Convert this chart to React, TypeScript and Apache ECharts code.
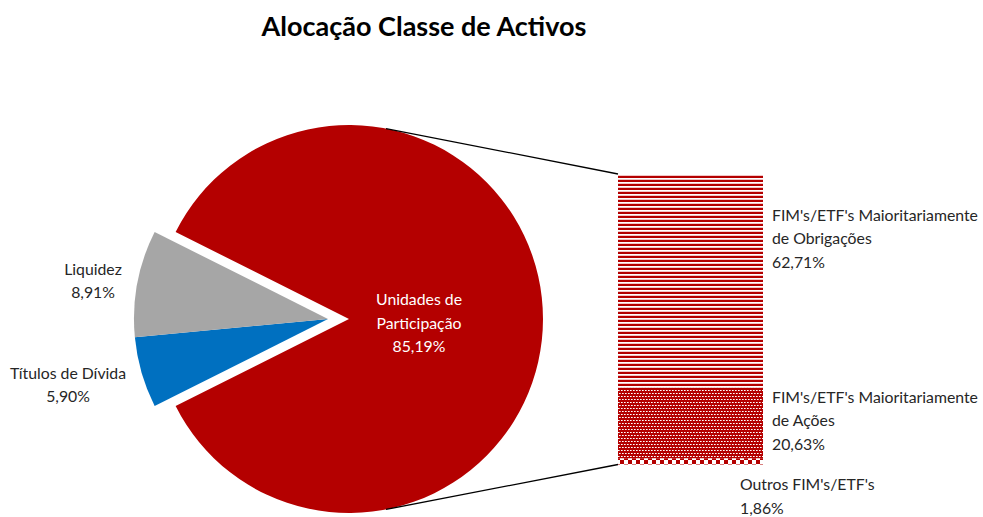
import React, { useEffect, useRef } from "react";
import * as echarts from "echarts";

// ---- data ----
const titleText = "Alocação Classe de Activos";
const pieNames = ["Títulos de Dívida", "Liquidez", "Unidades de\nParticipação"];
const pieValues = [5.9, 8.91, 85.19];
const pieColors = ["#0070C0", "#A6A6A6", "#B40000"];
const barNames = [
  "Outros FIM's/ETF's",
  "FIM's/ETF's Maioritariamente\nde Ações",
  "FIM's/ETF's Maioritariamente\nde Obrigações",
];
const barValues = [1.86, 20.63, 62.71];
const barCategory = ["Unidades de Participação"];

// ---- layout ----
const W = 983;
const H = 517;
const R = 194;
const SMALL_C = [328, 319];
const BIG_C = [349, 319];
const BAR_LEFT = 618;
const BAR_TOP = 174;
const BAR_W = 145;
const BAR_H = 290.5;
const LEADER_ANGLE = 79; // degrees on big circle
const PIE_LABEL_POS: Record<number, [number, number]> = {
  0: [68, 384],
  1: [93, 280],
  2: [419, 322],
};
const BAR_LABEL_OFFSET = [
  [-32, 34],
  [0, -3],
  [0, -43],
];
const FONT = "Lato, 'Open Sans', sans-serif";
const RED = "#B40000";
const LABEL_SIZE = 15.8;

const fmt = (v: number) => v.toFixed(2).replace(".", ",") + "%";

function makePattern(w: number, h: number, draw: (ctx: CanvasRenderingContext2D) => void) {
  const c = document.createElement("canvas");
  c.width = w;
  c.height = h;
  const ctx = c.getContext("2d")!;
  draw(ctx);
  return { image: c, repeat: "repeat", imageWidth: w, imageHeight: h } as any;
}

export default function App() {
  const ref = useRef<HTMLDivElement>(null);
  useEffect(() => {
    document.body.style.margin = "0";
    const chart = echarts.init(ref.current!, undefined, { renderer: "svg" });

    const stripes = makePattern(4, 4, (ctx) => {
      ctx.fillStyle = "#ffffff";
      ctx.fillRect(0, 0, 4, 4);
      ctx.fillStyle = RED;
      ctx.fillRect(0, 0, 4, 2);
      ctx.fillStyle = "#f2c6c6";
      ctx.fillRect(0, 3, 4, 1);
    });
    const dots = makePattern(6, 6, (ctx) => {
      ctx.fillStyle = RED;
      ctx.fillRect(0, 0, 6, 6);
      ctx.fillStyle = "#ffffff";
      ctx.fillRect(0, 0, 1, 1);
      ctx.fillRect(3, 0, 1, 1);
      ctx.fillRect(1.5 | 0, 3, 1, 1);
      ctx.fillRect(4, 3, 1, 1);
      ctx.fillStyle = "#e8a4a4";
      ctx.fillRect(1, 0, 1, 1);
      ctx.fillRect(4, 0, 1, 1);
      ctx.fillRect(2, 3, 1, 1);
      ctx.fillRect(5, 3, 1, 1);
    });
    const checker = makePattern(8, 8, (ctx) => {
      ctx.fillStyle = "#ffffff";
      ctx.fillRect(0, 0, 8, 8);
      ctx.fillStyle = RED;
      ctx.fillRect(0, 0, 4, 4);
      ctx.fillRect(4, 4, 4, 4);
    });
    const barPatterns = [checker, dots, stripes];

    const totalPie = pieValues.reduce((a, b) => a + b, 0);
    const smallSum = pieValues[0] + pieValues[1];
    const startAngle = 180 + (smallSum / totalPie) * 180;
    const barTotal = barValues.reduce((a, b) => a + b, 0);

    const hidden = {
      itemStyle: { color: "rgba(0,0,0,0)" },
      label: { show: false },
      labelLine: { show: false },
    };

    const labelLayoutFn = (p: any) => {
      const pos = PIE_LABEL_POS[p.dataIndex];
      return { x: pos[0], y: pos[1], align: "center", verticalAlign: "middle" };
    };

    const a = (LEADER_ANGLE * Math.PI) / 180;
    const topPt = [BIG_C[0] + R * Math.cos(a), BIG_C[1] - R * Math.sin(a)];
    const botPt = [BIG_C[0] + R * Math.cos(a), BIG_C[1] + R * Math.sin(a)];

    chart.setOption({
      animation: false,
      graphic: [
        {
          type: "text",
          x: 424,
          y: 25,
          style: {
            text: titleText,
            align: "center",
            verticalAlign: "middle",
            font: `bold 27px ${FONT}`,
            fill: "#000",
          },
        },
        {
          type: "line",
          shape: { x1: topPt[0], y1: topPt[1], x2: BAR_LEFT, y2: BAR_TOP },
          style: { stroke: "#000", lineWidth: 1.3 },
          z: 10,
        },
        {
          type: "line",
          shape: { x1: botPt[0], y1: botPt[1], x2: BAR_LEFT, y2: BAR_TOP + BAR_H },
          style: { stroke: "#000", lineWidth: 1.3 },
          z: 10,
        },
      ],
      grid: { left: BAR_LEFT, top: BAR_TOP, width: BAR_W, height: BAR_H },
      xAxis: { type: "category", data: barCategory, show: false },
      yAxis: { type: "value", min: 0, max: barTotal, show: false },
      series: [
        {
          type: "pie",
          center: SMALL_C,
          radius: R,
          startAngle,
          clockwise: true,
          avoidLabelOverlap: false,
          emphasis: { disabled: true },
          silent: true,
          label: {
            show: true,
            position: "outside",
            fontFamily: FONT,
            fontSize: LABEL_SIZE,
            lineHeight: 23.5,
            color: "#262626",
            formatter: (p: any) => `${p.name}\n${fmt(p.value)}`,
          },
          labelLine: { show: false },
          labelLayout: labelLayoutFn,
          data: pieValues.map((v, i) =>
            i < 2
              ? { name: pieNames[i], value: v, itemStyle: { color: pieColors[i] } }
              : { name: pieNames[i], value: v, ...hidden }
          ),
        },
        {
          type: "pie",
          center: BIG_C,
          radius: R,
          startAngle,
          clockwise: true,
          avoidLabelOverlap: false,
          emphasis: { disabled: true },
          silent: true,
          label: {
            show: true,
            position: "inside",
            fontFamily: FONT,
            fontSize: LABEL_SIZE,
            lineHeight: 23.5,
            color: "#ffffff",
            formatter: (p: any) => `${p.name}\n${fmt(p.value)}`,
          },
          labelLine: { show: false },
          labelLayout: labelLayoutFn,
          data: pieValues.map((v, i) =>
            i === 2
              ? { name: pieNames[i], value: v, itemStyle: { color: pieColors[i] } }
              : { name: pieNames[i], value: v, ...hidden }
          ),
        },
        ...barValues.map((v, i) => ({
          type: "bar",
          name: barNames[i],
          stack: "upart",
          barWidth: "100%",
          silent: true,
          emphasis: { disabled: true },
          itemStyle: { color: barPatterns[i], borderWidth: 0 },
          label: {
            show: true,
            position: "right",
            distance: 9,
            offset: BAR_LABEL_OFFSET[i],
            fontFamily: FONT,
            fontSize: LABEL_SIZE,
            lineHeight: 23.5,
            color: "#262626",
            align: "left",
            formatter: () => `${barNames[i]}\n${fmt(v)}`,
          },
          data: [v],
        })),
      ],
    });
    return () => chart.dispose();
  }, []);
  return <div ref={ref} style={{ width: W, height: H }} />;
}
